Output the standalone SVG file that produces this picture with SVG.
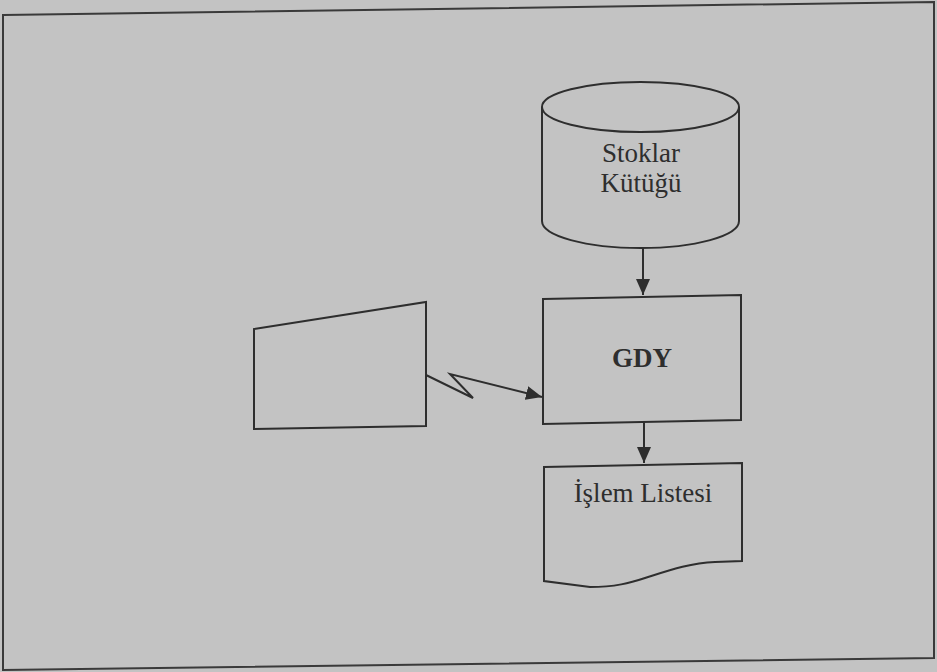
<svg xmlns="http://www.w3.org/2000/svg" width="937" height="672" viewBox="0 0 937 672">
<defs>
<style>
.ln{fill:none;stroke:#2e2e2e;stroke-width:2;stroke-linejoin:miter}
.t{font-family:"Liberation Serif","Times New Roman",serif;font-size:27px;fill:#2e2e2e;text-anchor:middle}
.b{font-weight:bold}
</style>
<marker id="ah" viewBox="0 0 16 14" refX="16" refY="7" markerWidth="16" markerHeight="14" markerUnits="userSpaceOnUse" orient="auto">
<path d="M0,0 L16,7 L0,14 Z" fill="#2e2e2e"/>
</marker>
</defs>
<rect width="937" height="672" fill="#c3c3c3"/>
<polygon id="frame" points="3,15 934,2 934,658 3,670" fill="none" stroke="#3a3a3a" stroke-width="2"/>
<g id="stoklar">
<path class="ln" d="M542,107 L542,221 A98.5,27 0 0 0 739,221 L739,107"/>
<ellipse class="ln" cx="640.5" cy="107" rx="98.5" ry="25"/>
<text class="t" x="641" y="162">Stoklar</text>
<text class="t" x="641" y="192">Kütüğü</text>
</g>
<g id="gdy">
<polygon class="ln" points="543,299 741,295 741,420 543,424"/>
<text class="t b" x="642" y="367">GDY</text>
</g>
<g id="giris">
<polygon class="ln" points="254,329 426,302 426,426 254,429"/>
</g>
<g id="islem">
<path class="ln" d="M544,467 L742,463 L742,561 L715,562 C690,563 670,570 645,578 C630,583 615,587 590,587 L544,581 Z"/>
<text class="t" x="643" y="502">İşlem Listesi</text>
</g>
<g id="connectors">
<path class="ln" d="M643,248 L643,295" marker-end="url(#ah)"/>
<path class="ln" d="M644,422 L644,463" marker-end="url(#ah)"/>
<path class="ln" d="M426,375 L473,398 L450,374 L542,397" marker-end="url(#ah)"/>
</g>
</svg>
